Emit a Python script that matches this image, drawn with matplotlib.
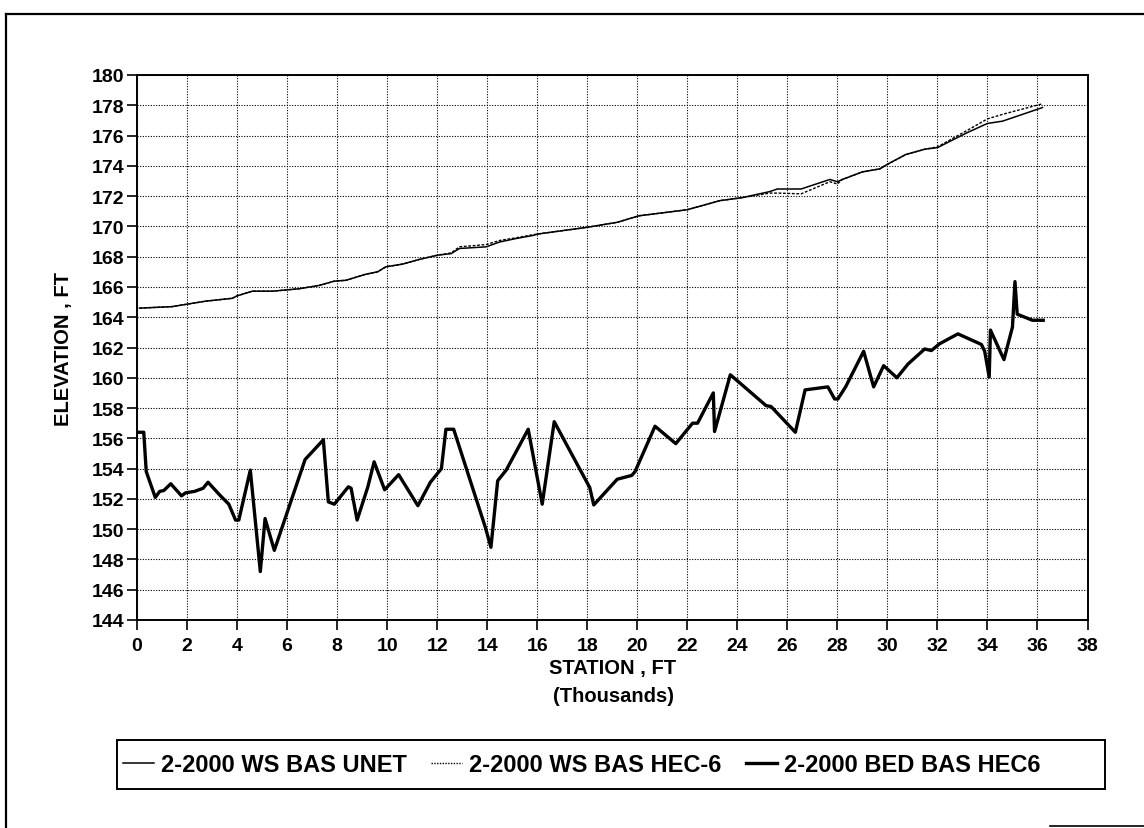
import matplotlib
matplotlib.use("Agg")
import matplotlib.pyplot as plt
from matplotlib.lines import Line2D
from matplotlib.patches import Rectangle

plt.rcParams['font.family'] = ['Liberation Sans', 'DejaVu Sans']
plt.rcParams['font.weight'] = 'bold'

# ---------------- data (station in thousands of ft, elevation in ft) -------------
ws_station = [0.10, 1.40, 2.74, 3.81, 4.00, 4.61, 5.41, 6.48, 7.28, 7.88, 8.35, 9.15,
              9.62, 9.95, 10.62, 11.29, 12.02, 12.56, 12.89, 13.96, 14.50, 15.16,
              15.83, 16.04, 18.00, 19.20, 20.07, 22.00, 23.30, 24.20, 25.30, 25.60,
              26.55, 27.70, 28.00, 28.20, 29.00, 29.70, 30.00, 30.74, 31.50, 32.00,
              33.20, 34.00, 34.60, 36.20]
ws_unet = [164.60, 164.70, 165.06, 165.25, 165.41, 165.72, 165.72, 165.88, 166.10, 166.38,
           166.44, 166.84, 167.00, 167.33, 167.51, 167.82, 168.10, 168.20, 168.54, 168.65,
           168.97, 169.20, 169.40, 169.50, 169.94, 170.27, 170.70, 171.10, 171.70, 171.90,
           172.30, 172.47, 172.47, 173.10, 172.95, 173.10, 173.60, 173.80, 174.10, 174.75,
           175.10, 175.20, 176.20, 176.80, 176.95, 177.85]
ws_hec6 = [164.60, 164.70, 165.06, 165.25, 165.41, 165.72, 165.72, 165.88, 166.10, 166.38,
           166.44, 166.84, 167.00, 167.33, 167.51, 167.82, 168.10, 168.25, 168.65, 168.80,
           169.07, 169.25, 169.45, 169.50, 169.94, 170.27, 170.70, 171.10, 171.70, 171.90,
           172.20, 172.20, 172.15, 172.95, 172.80, 173.10, 173.60, 173.80, 174.10, 174.75,
           175.10, 175.25, 176.35, 177.10, 177.40, 178.10]

bed_station = [0.10, 0.27, 0.37, 0.73, 0.91, 1.07, 1.35, 1.78, 1.94, 2.31, 2.64, 2.84,
               3.31, 3.67, 3.94, 4.07, 4.53, 4.93, 5.12, 5.49, 5.92, 6.72, 7.45, 7.65,
               7.89, 8.45, 8.56, 8.80, 9.23, 9.48, 9.90, 10.46, 11.23, 11.73, 12.17,
               12.35, 12.66, 13.93, 14.15, 14.42, 14.76, 15.64, 16.20, 16.68, 18.10,
               18.26, 19.20, 19.78, 19.91, 20.71, 21.54, 22.21, 22.41, 23.04, 23.09,
               23.72, 25.15, 25.35, 26.32, 26.71, 27.62, 27.89, 28.02, 28.33, 29.05,
               29.45, 29.85, 30.38, 30.82, 31.49, 31.76, 32.09, 32.82, 33.76, 33.89,
               34.07, 34.12, 34.66, 35.00, 35.10, 35.19, 35.80, 36.23]
bed_elev = [156.4, 156.4, 153.8, 152.1, 152.5, 152.55, 153.0, 152.2, 152.4, 152.5, 152.7,
            153.1, 152.25, 151.65, 150.6, 150.6, 153.9, 147.2, 150.7, 148.6, 150.7, 154.6,
            155.9, 151.8, 151.65, 152.8, 152.7, 150.6, 152.8, 154.45, 152.6, 153.6, 151.55,
            153.1, 154.0, 156.6, 156.6, 150.1, 148.8, 153.2, 153.9, 156.6, 151.65, 157.1,
            152.75, 151.6, 153.3, 153.55, 153.8, 156.8, 155.65, 157.0, 157.0, 159.0, 156.45,
            160.2, 158.16, 158.1, 156.4, 159.2, 159.4, 158.6, 158.6, 159.4, 161.75, 159.4,
            160.8, 160.0, 160.9, 161.9, 161.8, 162.25, 162.9, 162.2, 161.75, 160.05, 163.15,
            161.2, 163.35, 166.35, 164.2, 163.8, 163.8]

x_ticks = list(range(0, 39, 2))
y_ticks = list(range(144, 181, 2))
legend_labels = ["2-2000 WS BAS UNET", "2-2000 WS BAS HEC-6", "2-2000 BED BAS HEC6"]

# ---------------- figure ----------------
W, H = 1144, 829
fig = plt.figure(figsize=(W / 100, H / 100), dpi=100)
fig.patch.set_facecolor('white')


def fx(px):
    return px / W


def fy(py):
    return 1 - py / H


# outer page frame (left and top edges, plus the short bottom-right piece)
fig.add_artist(Line2D([fx(6), fx(6)], [fy(15), fy(829)], transform=fig.transFigure,
                      color='black', linewidth=1.6))
fig.add_artist(Line2D([fx(6), fx(1144)], [fy(15), fy(15)], transform=fig.transFigure,
                      color='black', linewidth=1.6))
fig.add_artist(Line2D([fx(1050), fx(1144)], [fy(827), fy(827)], transform=fig.transFigure,
                      color='black', linewidth=1.2))

ax = fig.add_axes([fx(137), fy(621), (1087.5 - 137) / W, (621 - 76) / H])

hec_ls = (0, (2.0, 1.2))
ax.plot(ws_station, ws_unet, color='black', linewidth=1.1, solid_joinstyle='round')
ax.plot(ws_station, ws_hec6, color='black', linewidth=1.0, linestyle=hec_ls)
ax.plot(bed_station, bed_elev, color='black', linewidth=2.4, solid_joinstyle='round')

ax.set_xlim(0, 38)
ax.set_ylim(144, 180)
ax.set_xticks(x_ticks)
ax.set_yticks(y_ticks)
ax.grid(True, color='black', linestyle=(0, (1.0, 1.4)), linewidth=0.8)
ax.tick_params(direction='out', length=7, width=1.2, labelsize=14)
ax.tick_params(axis='y', pad=2)
ax.tick_params(axis='x', pad=5)
for lab in ax.get_xticklabels() + ax.get_yticklabels():
    lab.set_fontweight('bold')
for sp in ax.spines.values():
    sp.set_linewidth(1.4)

fig.text(fx(613), fy(669), "STATION , FT", fontsize=14.5, fontweight='bold',
         ha='center', va='center')
fig.text(fx(613), fy(697), "(Thousands)", fontsize=14.5, fontweight='bold',
         ha='center', va='center')
fig.text(fx(63), fy(349), "ELEVATION , FT", rotation=90, fontsize=14.5,
         fontweight='bold', ha='center', va='center')

# legend box and entries
fig.add_artist(Rectangle((fx(117), fy(790)), (1105 - 117) / W, (790 - 741) / H,
                         transform=fig.transFigure, fill=False, edgecolor='black',
                         linewidth=1.4))
handles = [Line2D([], [], color='black', linewidth=1.1),
           Line2D([], [], color='black', linewidth=1.0, linestyle=(0, (1.0, 1.0))),
           Line2D([], [], color='black', linewidth=2.4)]
leg = fig.legend(handles, legend_labels, loc='center left',
                 bbox_to_anchor=(fx(117), fy(765.5)), ncol=3, frameon=False,
                 handlelength=1.3, handletextpad=0.3, columnspacing=1.05,
                 borderaxespad=0, borderpad=0.25,
                 prop={'weight': 'bold', 'size': 17})

fig.savefig("out.png", dpi=100, facecolor='white')
